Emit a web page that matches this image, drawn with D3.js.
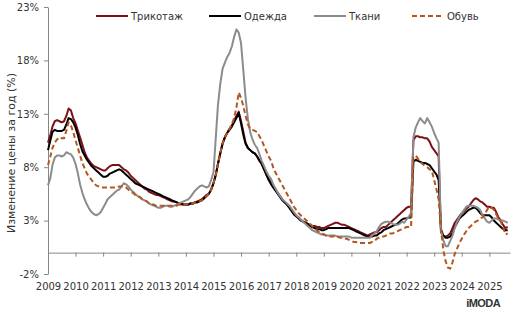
<!DOCTYPE html>
<html><head><meta charset="utf-8">
<script src="https://cdn.jsdelivr.net/npm/d3@7"></script>
<style>
html,body{margin:0;padding:0;background:#fff;}
svg{display:block;font-family:"DejaVu Sans",Verdana,sans-serif;}
</style></head>
<body><svg id="c" width="519" height="317"></svg>
<script>
// Monthly series, Jan 2009 .. Sep 2025 (year-over-year price change, %)
const startMonth = "2009-01";
const endMonth = "2025-09";
const seriesNames = ["Трикотаж", "Одежда", "Ткани", "Обувь"];
const yTicks = [-2, 3, 8, 13, 18, 23];
const yearLabels = ["2009","2010","2011","2012","2013","2014","2015","2016","2017","2018","2019","2020","2021","2022","2023","2024","2025"];
const yTitle = "Изменение цены за год (%)";

const knitwear = [
10.3,11.0,11.8,12.3,12.4,12.3,12.2,12.3,12.8,13.5,13.3,12.6,
12.1,11.4,10.8,10.1,9.4,8.9,8.6,8.3,8.1,8.0,7.9,7.8,
7.7,7.7,7.9,8.1,8.2,8.2,8.2,8.2,8.0,7.8,7.7,7.5,
7.2,7.0,6.8,6.6,6.4,6.2,6.0,5.9,5.7,5.6,5.5,5.4,
5.4,5.3,5.2,5.1,5.0,4.9,4.8,4.8,4.7,4.6,4.5,4.5,
4.5,4.5,4.6,4.6,4.7,4.8,4.9,5.0,5.2,5.4,5.5,5.9,
6.5,7.3,8.3,9.3,10.2,10.8,11.2,11.6,11.9,12.4,12.8,13.2,
12.3,11.3,10.3,9.8,9.6,9.4,9.3,9.0,8.6,8.3,7.8,7.3,
6.9,6.6,6.2,5.9,5.6,5.3,5.0,4.7,4.5,4.2,3.9,3.6,
3.4,3.3,3.1,2.9,2.8,2.7,2.6,2.5,2.5,2.4,2.4,2.3,
2.3,2.4,2.5,2.6,2.7,2.8,2.8,2.7,2.6,2.6,2.5,2.4,
2.3,2.2,2.1,2.0,1.9,1.8,1.7,1.6,1.7,1.8,1.9,1.9,
2.1,2.3,2.4,2.4,2.6,2.8,3.0,3.2,3.4,3.6,3.8,4.0,
4.2,4.3,4.3,10.5,10.9,10.9,10.8,10.8,10.7,10.7,10.4,9.9,
9.6,9.3,9.0,1.9,1.6,1.5,1.6,1.8,2.3,2.8,3.1,3.4,
3.7,3.9,4.1,4.3,4.6,4.9,5.1,5.0,4.8,4.7,4.5,4.3,
4.3,4.2,4.2,3.8,3.3,3.0,2.6,2.3,2.4];

const clothing = [
9.6,10.5,11.3,11.5,11.4,11.4,11.4,11.5,12.0,12.6,12.5,12.2,
11.7,11.0,10.2,9.5,9.1,8.7,8.4,8.1,7.9,7.7,7.5,7.3,
7.1,7.1,7.2,7.4,7.5,7.6,7.7,7.8,7.7,7.5,7.3,7.1,
6.9,6.7,6.5,6.4,6.3,6.2,6.1,6.0,5.9,5.8,5.7,5.6,
5.5,5.4,5.3,5.2,5.1,5.0,4.9,4.8,4.7,4.6,4.6,4.5,
4.5,4.5,4.6,4.6,4.7,4.7,4.8,4.9,5.1,5.3,5.5,5.9,
6.5,7.3,8.3,9.3,10.2,10.8,11.2,11.5,11.8,12.2,12.6,13.1,
12.1,11.0,10.2,9.8,9.6,9.4,9.3,9.0,8.6,8.3,7.8,7.3,
6.8,6.4,6.1,5.8,5.5,5.2,4.9,4.7,4.5,4.2,3.9,3.6,
3.4,3.2,3.0,2.9,2.8,2.7,2.5,2.4,2.3,2.2,2.2,2.1,
2.1,2.2,2.3,2.3,2.3,2.3,2.3,2.3,2.3,2.3,2.3,2.3,
2.2,2.1,2.0,1.9,1.8,1.7,1.6,1.5,1.5,1.5,1.6,1.6,
1.8,1.9,2.1,2.2,2.3,2.4,2.5,2.6,2.7,2.9,3.1,3.2,
3.2,3.3,3.3,8.5,8.7,8.6,8.5,8.4,8.4,8.3,8.2,7.9,
7.6,7.3,6.8,2.2,1.6,1.4,1.4,1.5,1.8,2.4,2.8,3.2,
3.4,3.6,3.8,4.0,4.1,4.2,4.2,4.0,3.7,3.5,3.5,3.5,
3.5,3.3,3.0,2.8,2.6,2.4,2.2,2.1,2.1];

const fabrics = [
6.3,7.0,8.2,8.9,9.1,9.1,9.0,9.1,9.4,9.3,9.2,8.9,
8.3,7.4,6.4,5.6,5.0,4.5,4.1,3.8,3.6,3.5,3.6,3.8,
4.2,4.6,5.0,5.2,5.4,5.6,5.8,5.9,6.2,6.5,6.4,6.2,
5.9,5.7,5.5,5.3,5.2,5.0,4.9,4.8,4.6,4.5,4.4,4.3,
4.2,4.2,4.3,4.4,4.4,4.3,4.3,4.4,4.5,4.6,4.7,4.8,
4.9,5.0,5.2,5.5,5.8,6.0,6.2,6.3,6.2,6.1,6.2,6.8,
7.5,10.8,13.8,15.8,17.2,17.8,18.3,18.7,19.3,20.2,20.9,20.6,
19.6,17.0,14.5,12.5,11.3,10.6,10.1,9.8,9.2,8.6,8.1,7.6,
7.2,6.9,6.4,6.0,5.6,5.3,5.0,4.8,4.6,4.4,4.1,3.8,
3.5,3.3,3.1,2.9,2.7,2.5,2.3,2.1,2.0,1.9,1.8,1.7,
1.7,1.6,1.6,1.6,1.6,1.6,1.5,1.5,1.5,1.5,1.5,1.5,
1.4,1.4,1.4,1.4,1.4,1.4,1.4,1.4,1.4,1.6,1.8,2.0,
2.4,2.7,2.8,2.9,2.9,2.8,2.7,2.6,2.6,2.7,2.9,2.8,
3.1,3.4,3.7,10.8,11.7,12.2,12.6,12.3,12.1,12.6,12.2,11.8,
11.2,10.7,10.3,2.1,1.2,0.6,0.6,1.1,1.6,2.3,2.9,3.3,
3.7,4.0,4.3,4.4,4.4,4.4,4.3,4.2,4.0,3.5,3.2,2.9,
2.8,3.0,3.2,3.2,3.1,3.0,3.0,2.9,2.8];

const footwear = [
8.2,9.0,9.8,10.3,10.6,10.8,10.7,10.7,11.4,12.2,11.9,11.3,
10.5,9.8,9.1,8.4,7.9,7.4,7.1,6.8,6.5,6.3,6.2,6.1,
6.1,6.1,6.1,6.1,6.1,6.1,6.1,6.2,6.2,6.2,6.1,5.9,
5.7,5.6,5.4,5.3,5.2,5.0,4.9,4.8,4.6,4.5,4.5,4.4,
4.4,4.4,4.4,4.4,4.4,4.4,4.4,4.4,4.4,4.5,4.5,4.5,
4.5,4.6,4.6,4.6,4.7,4.7,4.8,4.9,5.1,5.3,5.5,5.9,
6.5,7.3,8.3,9.3,10.2,10.8,11.2,11.6,12.0,12.6,13.6,15.0,
14.5,13.7,12.8,12.0,11.6,11.5,11.4,11.3,10.9,10.5,10.0,9.5,
9.0,8.6,8.0,7.5,7.1,6.7,6.3,5.9,5.5,5.1,4.7,4.3,
4.0,3.7,3.5,3.3,3.1,2.9,2.7,2.5,2.3,2.1,1.9,1.8,
1.7,1.6,1.5,1.5,1.5,1.5,1.5,1.4,1.4,1.3,1.3,1.2,
1.1,1.0,1.0,0.9,0.9,0.9,0.9,0.9,0.9,1.0,1.1,1.3,
1.4,1.5,1.5,1.6,1.7,1.8,1.8,1.9,2.0,2.1,2.2,2.3,
2.4,2.4,2.4,8.9,9.1,8.8,8.5,8.3,8.1,8.0,7.8,7.7,
6.8,5.9,5.0,2.2,0.3,-0.8,-1.4,-1.5,-0.9,-0.1,0.4,0.9,
1.3,1.7,2.0,2.3,2.5,2.7,2.9,3.0,3.2,3.3,3.6,4.0,
4.3,4.2,4.0,3.6,3.2,2.9,2.4,1.7,1.8];

const colors = ["#7d1019", "#000000", "#8c8c8c", "#b5561e"];
const dashes = [null, null, null, "5,3"];

const parse = d3.timeParse("%Y-%m");
const months = d3.timeMonth.range(parse(startMonth), d3.timeMonth.offset(parse(endMonth), 1));
const allSeries = [knitwear, clothing, fabrics, footwear];

const svg = d3.select("#c");
const x = d3.scaleTime().domain([parse("2009-01"), parse("2025-10")]).range([48, 510]);
const y = d3.scaleLinear().domain([-2, 23]).range([274, 7]);

// y axis
const yAx = svg.append("g").attr("transform", "translate(48,0)")
  .call(d3.axisLeft(y).tickValues(yTicks).tickFormat(d => d + "%").tickSize(4).tickSizeOuter(0).tickPadding(5));
yAx.select(".domain").attr("stroke", "#868686");
yAx.selectAll(".tick line").attr("stroke", "#868686");
yAx.selectAll("text").attr("font-size", 10).attr("fill", "#333").attr("font-family", "DejaVu Sans");

// x axis at 0%
const yearDates = yearLabels.map(s => parse(s + "-01"));
const xAx = svg.append("g").attr("transform", `translate(0,${y(0)})`)
  .call(d3.axisBottom(x).tickValues(yearDates).tickFormat((d, i) => yearLabels[i]).tickSize(4).tickSizeOuter(0).tickPadding(26));
xAx.select(".domain").attr("stroke", "#868686");
xAx.selectAll(".tick line").attr("stroke", "#868686");
xAx.selectAll("text").attr("font-size", 10).attr("fill", "#333").attr("font-family", "DejaVu Sans");

// y title
svg.append("text").attr("transform", "translate(15,153) rotate(-90)")
  .attr("text-anchor", "middle").attr("font-size", 11).attr("fill", "#333")
  .text(yTitle);

// lines
const line = d3.line().x((d, i) => x(months[i])).y(d => y(d));
allSeries.forEach((s, k) => {
  svg.append("path").datum(s).attr("d", line)
    .attr("fill", "none").attr("stroke", colors[k]).attr("stroke-width", 2)
    .attr("stroke-linejoin", "round")
    .attr("stroke-dasharray", dashes[k]);
});

// legend
const legX = [96, 209, 314, 412];
seriesNames.forEach((n, k) => {
  const g = svg.append("g").attr("transform", `translate(${legX[k]},16)`);
  g.append("line").attr("x1", 0).attr("x2", 32).attr("y1", 0).attr("y2", 0)
    .attr("stroke", colors[k]).attr("stroke-width", 2).attr("stroke-dasharray", dashes[k]);
  g.append("text").attr("x", 35).attr("y", 3.5).attr("font-size", 10).attr("fill", "#333").text(n);
});

// logo
svg.append("text").attr("x", 500).attr("y", 307).attr("text-anchor", "end")
  .attr("font-family", "Liberation Sans Narrow, Liberation Sans, sans-serif")
  .attr("font-weight", "bold").attr("font-size", 11).attr("letter-spacing", -0.6)
  .attr("fill", "#333").text("iMODA");
</script></body></html>
